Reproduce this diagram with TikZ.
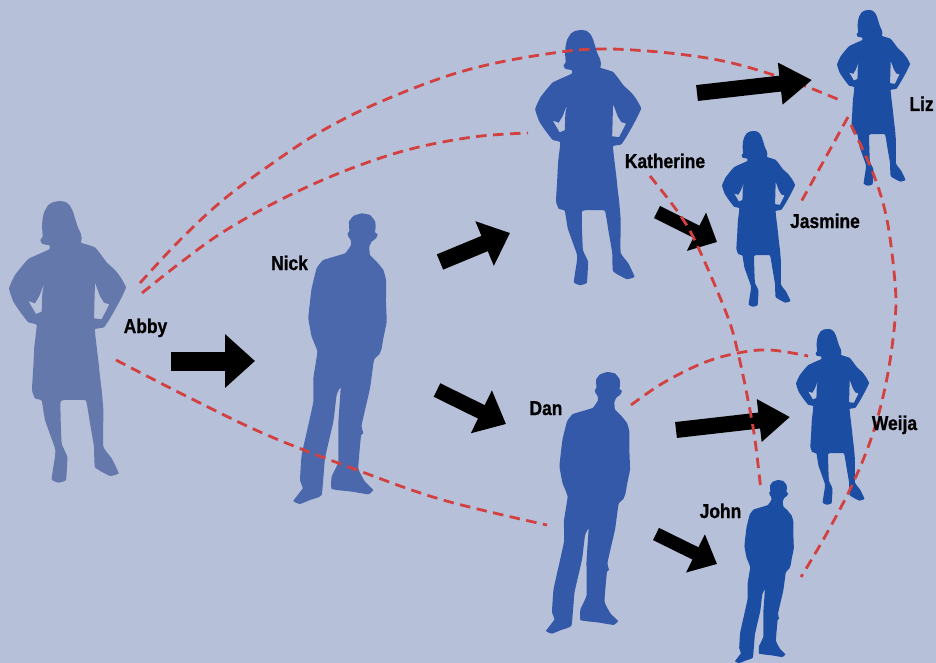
\documentclass[tikz,border=0pt]{standalone}
\usepackage{fontspec}
\setmainfont{Liberation Sans}[FakeStretch=0.87,BoldFeatures={FakeBold=0.8}]
\usetikzlibrary{arrows.meta}
\definecolor{bgc}{HTML}{B7C0D9}
\definecolor{cA}{HTML}{6478AC}
\definecolor{cB}{HTML}{4B68AC}
\definecolor{cC}{HTML}{3359A8}
\definecolor{cD}{HTML}{1B4DA2}
\definecolor{dashc}{HTML}{D2403F}
\newcommand{\womanshape}[4]{%
\fill[#4,shift={(#1,#2)},xscale=#3,yscale=#3,even odd rule]
 plot[smooth cycle,tension=0.2] coordinates {(180,33)(197,36)(210,47)(219,65)(226,88)(233,110)(242,130)(245,145)(243,158)(262,164)(285,172)(300,190)(320,217)(345,240)(362,262)(378,292)(365,322)(350,350)(332,382)(312,412)(285,418)(290,470)(296,520)(300,560)(305,600)(310,660)(310,770)(335,805)(356,850)(330,858)(285,832)(282,770)(270,700)(258,632)(225,630)(182,634)(185,760)(202,800)(198,870)(175,878)(155,868)(165,800)(165,775)(135,690)(125,632)(105,625)(96,600)(100,530)(103,470)(110,405)(85,397)(62,368)(40,335)(27,295)(45,255)(85,207)(148,178)(148,166)(127,162)(121,150)(128,140)(126,110)(128,85)(133,65)(145,45)(160,36)}
 plot[sharp cycle] coordinates {(133,280)(127,310)(125,365)(108,372)(85,333)(105,340)(118,318)}
 plot[sharp cycle] coordinates {(285,278)(282,385)(305,388)(328,343)(312,338)(300,318)};}
\newcommand{\manshape}[4]{%
\fill[#4,shift={(#1,#2)},xscale=#3,yscale=#3]
 plot[smooth cycle,tension=0.2] coordinates {(245,25)(270,30)(285,48)(287,65)(285,82)(293,88)(288,100)(275,110)(268,125)(270,150)(290,170)(310,195)(318,225)(318,290)(320,350)(310,400)(305,430)(298,448)(282,465)(270,550)(245,660)(250,685)(243,692)(235,790)(255,830)(280,855)(265,868)(215,860)(155,852)(155,815)(175,770)(175,655)(182,548)(170,570)(160,650)(135,760)(125,870)(90,885)(60,897)(40,888)(68,850)(60,825)(65,750)(85,660)(100,590)(100,520)(112,440)(95,395)(85,340)(90,290)(95,250)(110,190)(130,165)(195,145)(213,120)(212,105)(205,95)(203,85)(208,78)(207,50)(220,33)};}
\tikzset{
 linkline/.style={dashc,line width=2.8pt,dash pattern=on 10.5pt off 6.5pt},
 namelabel/.style={font=\bfseries\fontsize{20}{20}\selectfont,text=black,inner sep=0pt,anchor=base},
 blockarrow/.style n args={3}{line width=#1,-{Triangle[length=#2,width=#3]},black}
}
\begin{document}
\begin{tikzpicture}[x=1pt,y=-1pt]
\useasboundingbox (0,0) rectangle (936,663);
\fill[bgc] (0,0) rectangle (936,663);
\womanshape{0}{190}{0.3333}{cA}
\manshape{280}{205}{0.3333}{cB}
\womanshape{527}{20}{0.302}{cC}
\manshape{534}{364.5}{0.30}{cC}
\womanshape{716.4}{124.1}{0.208}{cD}
\womanshape{831.4}{3.1}{0.208}{cD}
\womanshape{790.4}{322.1}{0.208}{cD}
\manshape{726.6}{474.75}{0.21}{cD}
% link under the arrow to Liz
\draw[linkline] plot[smooth,tension=0.6] coordinates {(140,283)(180,240)(223,200)(270,165)(320,132)(380,102)(460,72)(540,55)(610,49)(707,58)(780,77)(842,101)};
% arrows
\coordinate (a1s) at (171,361); \coordinate (a1e) at (255,361);
\coordinate (a2s) at (440,262); \coordinate (a2e) at (510,233);
\coordinate (a3s) at (437,390); \coordinate (a3e) at (506,424);
\coordinate (a4s) at (657,212); \coordinate (a4e) at (717,242);
\coordinate (a5s) at (697,93);  \coordinate (a5e) at (812,80);
\coordinate (a6s) at (676,430); \coordinate (a6e) at (790,417);
\coordinate (a7s) at (656,534); \coordinate (a7e) at (717,564);
\draw[blockarrow={19pt}{30pt}{52pt}] (a1s) -- (a1e);
\draw[blockarrow={16.5pt}{27.5pt}{46.5pt}] (a2s) -- (a2e);
\draw[blockarrow={15pt}{27.5pt}{46pt}] (a3s) -- (a3e);
\draw[blockarrow={13.6pt}{23pt}{41.5pt}] (a4s) -- (a4e);
\draw[blockarrow={16pt}{32pt}{40pt}] (a5s) -- (a5e);
\draw[blockarrow={16pt}{31pt}{41pt}] (a6s) -- (a6e);
\draw[blockarrow={13.6pt}{24pt}{41pt}] (a7s) -- (a7e);
% dashed links
\draw[linkline] plot[smooth,tension=0.6] coordinates {(142,293)(180,263)(223,232)(280,200)(342,172)(407,150)(473,137)(528,133)};
\draw[linkline] plot[smooth,tension=0.6] coordinates {(116,360)(190,398)(267,435)(357,470)(443,500)(547,525)};
\draw[linkline] plot[smooth,tension=0.6] coordinates {(650,176)(680,215)(698,247)(727,315)(738,353)(748,400)(755,440)(761,491)};
\draw[linkline] plot[smooth,tension=0.6] coordinates {(631,405)(663,383)(703,363)(738,353)(770,350)(808,356)};
\draw[linkline] (848,117) -- (801,202);
\draw[linkline] plot[smooth,tension=0.6] coordinates {(851,125)(873,173)(887,220)(895,283)(895,320)(887,378)(873,433)(853,483)(827,533)(801,577)};
% labels
\node[namelabel] (abby) at (145.5,333) {Abby};
\node[namelabel] (nick) at (289.5,270) {Nick};
\node[namelabel] (kath) at (665,168) {Katherine};
\node[namelabel] (jasm) at (825,228) {Jasmine};
\node[namelabel] (liz) at (921.5,111) {Liz};
\node[namelabel] (weija) at (894.5,430) {Weija};
\node[namelabel] (dan) at (546,415) {Dan};
\node[namelabel] (john) at (720.5,518) {John};
\end{tikzpicture}
\end{document}
